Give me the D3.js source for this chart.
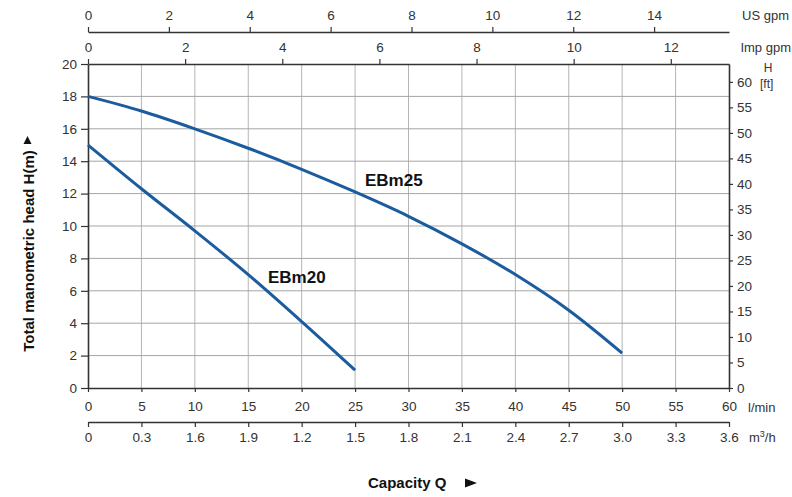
<!DOCTYPE html>
<html><head><meta charset="utf-8">
<script src="https://cdn.jsdelivr.net/npm/d3@7"></script>
<style>body{margin:0;background:#fff} text{font-family:"Liberation Sans",Arial,sans-serif}</style>
</head><body><svg id="c" width="792" height="497"></svg>
<script>
// ---- data ----
const flowEBm25 = [0, 5, 10, 15, 20, 25, 30, 35, 40, 45, 50];
const headEBm25 = [18, 17.1, 16, 14.8, 13.5, 12.1, 10.6, 8.9, 7.0, 4.8, 2.15];
const flowEBm20 = [0, 5, 10, 15, 20, 25];
const headEBm20 = [15, 12.3, 9.7, 7.0, 4.1, 1.1];
const lminTicks = [0, 5, 10, 15, 20, 25, 30, 35, 40, 45, 50, 55, 60];
const m3hTickLabels = ["0", "0.3", "1.6", "1.9", "1.2", "1.5", "1.8", "2.1", "2.4", "2.7", "3.0", "3.3", "3.6"];
const usGpmTicks = [0, 2, 4, 6, 8, 10, 12, 14];
const impGpmTicks = [0, 2, 4, 6, 8, 10, 12];
const headTicks = [0, 2, 4, 6, 8, 10, 12, 14, 16, 18, 20];
const ftTicks = [0, 5, 10, 15, 20, 25, 30, 35, 40, 45, 50, 55, 60];
const seriesNames = ["EBm25", "EBm20"];

// ---- layout ----
const X0 = 88, X1 = 729, Y0 = 388, Y1 = 64;
const svg = d3.select("#c");
const x = d3.scaleLinear().domain([0, 60]).range([X0, X1]);
const y = d3.scaleLinear().domain([0, 20]).range([Y0, Y1]);
const yFt = d3.scaleLinear().domain([0, 63.5]).range([Y0, Y1]);
const xUS = d3.scaleLinear().domain([0, 60 / 3.785]).range([X0, X1]);
const xImp = d3.scaleLinear().domain([0, 60 / 4.546]).range([X0, X1]);
const xM3 = d3.scaleLinear().domain([0, m3hTickLabels.length - 1]).range([X0, X1]);

const FS = 13.5, TXT = "#333", AX = "#333";

// grid
svg.append("g").selectAll("line").data(lminTicks.filter(d => d > 0 && d < 60)).join("line")
  .attr("x1", d => x(d)).attr("x2", d => x(d)).attr("y1", Y1).attr("y2", Y0)
  .attr("stroke", "#b5b5b5").attr("stroke-width", 1);
svg.append("g").selectAll("line").data(headTicks.filter(d => d > 0 && d < 20)).join("line")
  .attr("x1", X0).attr("x2", X1).attr("y1", d => y(d)).attr("y2", d => y(d))
  .attr("stroke", "#a5a5a5").attr("stroke-width", 1);

function styleAxis(g) {
  g.select(".domain").attr("stroke", AX).attr("stroke-width", 1.6);
  g.selectAll(".tick line").attr("stroke", AX).attr("stroke-width", 1.2);
  g.selectAll(".tick text").attr("fill", TXT).style("font-size", FS + "px").attr("font-family", "Liberation Sans, Arial, sans-serif");
}

// left axis (m)
svg.append("g").attr("transform", `translate(${X0},0)`)
  .call(d3.axisLeft(y).tickValues(headTicks).tickSize(7).tickSizeOuter(0).tickPadding(4)).call(styleAxis);
// right axis (ft)
svg.append("g").attr("transform", `translate(${X1},0)`)
  .call(d3.axisRight(yFt).tickValues(ftTicks).tickSize(4).tickSizeOuter(0).tickPadding(4)).call(styleAxis);
// bottom l/min
svg.append("g").attr("transform", `translate(0,${Y0})`)
  .call(d3.axisBottom(x).tickValues(lminTicks).tickSize(4).tickSizeOuter(0).tickPadding(9)).call(styleAxis);
// bottom m3/h
svg.append("g").attr("transform", `translate(0,422)`)
  .call(d3.axisBottom(xM3).tickValues(d3.range(m3hTickLabels.length)).tickFormat(i => m3hTickLabels[i]).tickSize(5).tickSizeOuter(0).tickPadding(5)).call(styleAxis);
// top Imp gpm (plot top border)
svg.append("g").attr("transform", `translate(0,${Y1})`)
  .call(d3.axisTop(xImp).tickValues(impGpmTicks).tickSize(5).tickSizeOuter(0).tickPadding(7)).call(styleAxis);
// top US gpm
svg.append("g").attr("transform", `translate(0,32)`)
  .call(d3.axisTop(xUS).tickValues(usGpmTicks).tickSize(5).tickSizeOuter(0).tickPadding(7)).call(styleAxis);

// curves
const line = d3.line().x(d => x(d[0])).y(d => y(d[1])).curve(d3.curveMonotoneX);
const curves = [d3.zip(flowEBm25, headEBm25), d3.zip(flowEBm20, headEBm20)];
svg.append("g").selectAll("path").data(curves).join("path")
  .attr("d", line).attr("fill", "none").attr("stroke", "#1b5c9e").attr("stroke-width", 3);

// series labels
svg.append("text").attr("x", 365).attr("y", 186).text(seriesNames[0])
  .style("font-size", "17px").style("font-weight", "bold").attr("fill", "#111");
svg.append("text").attr("x", 268).attr("y", 283).text(seriesNames[1])
  .style("font-size", "17px").style("font-weight", "bold").attr("fill", "#111");

// unit labels
const unit = (tx, ty, t, anchor, fs) => svg.append("text").attr("x", tx).attr("y", ty).text(t)
  .attr("text-anchor", anchor || "start").style("font-size", (fs || 13) + "px").attr("fill", TXT);
unit(789, 20, "US gpm", "end");
unit(791, 52, "Imp gpm", "end");
unit(768, 72, "H", "middle", 12);
unit(760, 88, "[ft]", "start", 12);
unit(748, 412, "l/min");
const m3 = unit(749, 442, "m");
m3.append("tspan").text("3").attr("dy", -5).style("font-size", "9px");
m3.append("tspan").text("/h").attr("dy", 5);

// axis titles
svg.append("text").attr("transform", "translate(33.5,251) rotate(-90)")
  .attr("text-anchor", "middle").text("Total manometric head H(m)")
  .style("font-size", "15px").style("font-weight", "bold").attr("fill", "#111");
svg.append("path").attr("d", "M27.5,136 L31.5,144 L23.5,144 Z").attr("fill", "#111");
svg.append("text").attr("x", 368).attr("y", 488).text("Capacity Q")
  .style("font-size", "15px").style("font-weight", "bold").attr("fill", "#111");
svg.append("path").attr("d", "M465,478.5 L477,483 L465,487.5 Z").attr("fill", "#111");
</script></body></html>
